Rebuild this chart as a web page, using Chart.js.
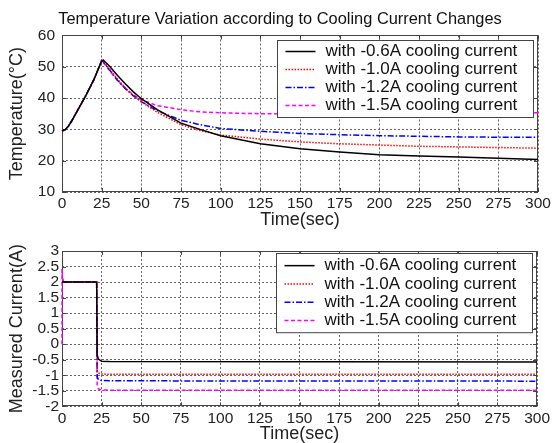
<!DOCTYPE html>
<html>
<head>
<meta charset="utf-8">
<script src="https://cdn.jsdelivr.net/npm/chart.js@4/dist/chart.umd.min.js"></script>
<style>
  html, body { margin: 0; padding: 0; background: #fff; }
  #wrap { position: relative; width: 553px; height: 443px; }
  canvas { position: absolute; left: 0; }
  #tempChart { top: 0; }
  #currChart { top: 236px; }
</style>
</head>
<body>
<div id="wrap">
  <canvas id="tempChart" width="553" height="236"></canvas>
  <canvas id="currChart" width="553" height="207"></canvas>
</div>
<script>
// series names / looks
const seriesLabels = [
  'with -0.6A cooling current',
  'with -1.0A cooling current',
  'with -1.2A cooling current',
  'with -1.5A cooling current'
];
const seriesColors = ['#000000', '#ff0000', '#0000ff', '#ff00ff'];
const seriesDash = [[], [1.5, 1.5], [6, 2, 1.5, 2], [4, 2.5]];

// tick values
const timeTicks = [0, 25, 50, 75, 100, 125, 150, 175, 200, 225, 250, 275, 300];
const tempTicks = [10, 20, 30, 40, 50, 60];
const currTicks = [-2, -1.5, -1, -0.5, 0, 0.5, 1, 1.5, 2, 2.5, 3];

// top plot: temperature (deg C) vs time (sec)
const tempTime = [0, 2, 4, 6, 10, 15, 20, 25, 26, 30, 35, 40, 45, 50, 60, 75, 87, 100, 125, 150, 175, 200, 225, 250, 275, 300];
const temp06 = [29.5, 29.9, 31.0, 32.6, 36.2, 40.8, 45.8, 51.8, 52.2, 50.2, 47.2, 44.5, 42.0, 39.8, 36.3, 32.0, 30.0, 28.0, 25.4, 23.8, 22.8, 21.9, 21.5, 21.2, 20.8, 20.4];
const temp10 = [29.5, 29.9, 31.0, 32.6, 36.2, 40.8, 45.8, 51.9, 51.8, 49.3, 46.0, 43.2, 40.8, 38.8, 35.5, 31.5, 29.6, 28.2, 26.9, 26.0, 25.4, 25.0, 24.6, 24.4, 24.2, 24.0];
const temp12 = [29.5, 29.9, 31.0, 32.6, 36.2, 40.8, 45.8, 52.0, 51.6, 49.0, 45.7, 43.0, 40.7, 38.9, 36.0, 32.9, 31.5, 30.3, 29.4, 28.7, 28.3, 28.0, 27.8, 27.6, 27.5, 27.5];
const temp15 = [29.5, 29.9, 31.0, 32.6, 36.2, 40.8, 45.8, 52.1, 51.4, 48.8, 45.6, 43.1, 41.0, 39.5, 37.6, 36.3, 35.6, 35.3, 35.0, 35.0, 35.0, 35.0, 35.1, 35.2, 35.3, 35.3];

// bottom plot: measured current (A) vs time (sec)
const currTime = [0, 1, 21.9, 22.2, 23, 25, 30, 300];
const curr06 = [2.0, 2.0, 2.0, -0.35, -0.48, -0.55, -0.56, -0.57];
const curr10 = [2.0, 2.0, 2.0, -0.85, -0.93, -0.96, -0.97, -0.97];
const curr12 = [2.0, 2.0, 2.0, -1.05, -1.14, -1.17, -1.18, -1.19];
const currTime15 = [0, 0, 0.2, 1, 21.9, 22.2, 23, 25, 30, 300];
const curr15 = [0, 2.42, 2.2, 2.0, 2.0, -1.35, -1.44, -1.47, -1.48, -1.48];

const FONT = '"Liberation Sans", Arial, sans-serif';

function makeSet(i, xs, ys) {
  return {
    label: seriesLabels[i],
    data: xs.map((x, k) => ({x: x, y: ys[k]})),
    borderColor: seriesColors[i],
    borderDash: seriesDash[i],
    borderWidth: 1.5,
    pointRadius: 0,
    tension: 0,
    fill: false,
    clip: 2
  };
}

// box + inner ticks under the lines, matlab-like legend on top
const boxLegend = {
  id: 'boxLegend',
  beforeDatasetsDraw(chart) {
    const ctx = chart.ctx;
    const a = chart.chartArea;
    const sx = chart.scales.x, sy = chart.scales.y;
    ctx.save();
    ctx.setLineDash([]);
    ctx.strokeStyle = '#444';
    ctx.lineWidth = 1;
    ctx.beginPath();
    sx.ticks.forEach(t => {
      const px = Math.round(sx.getPixelForValue(t.value)) + 0.5;
      ctx.moveTo(px, a.bottom); ctx.lineTo(px, a.bottom - 4);
      ctx.moveTo(px, a.top); ctx.lineTo(px, a.top + 4);
    });
    sy.ticks.forEach(t => {
      const py = Math.round(sy.getPixelForValue(t.value)) + 0.5;
      ctx.moveTo(a.left, py); ctx.lineTo(a.left + 4, py);
      ctx.moveTo(a.right, py); ctx.lineTo(a.right - 4, py);
    });
    ctx.stroke();
    ctx.strokeRect(Math.round(a.left) + 0.5, Math.round(a.top) + 0.5, Math.round(a.width) - 1, Math.round(a.height) - 1);
    ctx.restore();
  },
  afterDatasetsDraw(chart, args, opts) {
    const ctx = chart.ctx;
    const a = chart.chartArea;
    const n = chart.data.datasets.length;
    const h = opts.padTop + opts.rowH * n + opts.padBottom;
    const bx = Math.round(a.right - opts.right - opts.width) + 0.5;
    const by = Math.round(a.top + opts.top) + 0.5;
    ctx.save();
    ctx.setLineDash([]);
    ctx.lineWidth = 1;
    ctx.fillStyle = '#fff';
    ctx.fillRect(bx, by, opts.width, h);
    ctx.strokeStyle = '#444';
    ctx.strokeRect(bx, by, opts.width, h);
    ctx.font = '17px ' + FONT;
    ctx.textBaseline = 'middle';
    chart.data.datasets.forEach((ds, i) => {
      const y = by + opts.padTop + opts.rowH * (i + 0.5);
      ctx.strokeStyle = ds.borderColor;
      ctx.lineWidth = 1.5;
      ctx.setLineDash(ds.borderDash || []);
      ctx.beginPath();
      ctx.moveTo(bx + 8, y);
      ctx.lineTo(bx + 38, y);
      ctx.stroke();
      ctx.setLineDash([]);
      ctx.fillStyle = '#111';
      ctx.fillText(ds.label, bx + 48, y);
    });
    ctx.restore();
  }
};

function axisX(height, tickPad, titlePad) {
  return {
    type: 'linear', min: 0, max: 300,
    afterBuildTicks: s => { s.ticks = timeTicks.map(v => ({value: v})); },
    afterFit: s => { s.height = height; },
    grid: { color: '#666', lineWidth: 1, drawTicks: false },
    border: { display: false, dash: [2, 2] },
    ticks: { padding: tickPad, color: '#222', maxRotation: 0, autoSkip: false, font: { family: FONT, size: 15.5 } },
    title: { display: true, text: 'Time(sec)', color: '#222', padding: { top: 0, bottom: titlePad }, font: { family: FONT, size: 18, lineHeight: 1.0 } }
  };
}

// axis width is 62 px measured from the canvas edge, padL = layout left padding
function axisY(min, max, list, text, tickPad, padL) {
  return {
    type: 'linear', min: min, max: max,
    afterBuildTicks: s => { s.ticks = list.map(v => ({value: v})); },
    afterFit: s => { s.width = 62 - padL; },
    grid: { color: '#666', lineWidth: 1, drawTicks: false },
    border: { display: false, dash: [2, 2] },
    ticks: {
      padding: tickPad, color: '#222', autoSkip: false,
      font: { family: FONT, size: 15.5 },
      callback: v => String(v)
    },
    title: { display: true, text: text, color: '#222', padding: { top: 8 - padL, bottom: 0 }, font: { family: FONT, size: 18, lineHeight: 1.0 } }
  };
}

new Chart(document.getElementById('tempChart').getContext('2d'), {
  type: 'line',
  data: {
    datasets: [
      makeSet(0, tempTime, temp06),
      makeSet(1, tempTime, temp10),
      makeSet(2, tempTime, temp12),
      makeSet(3, tempTime, temp15)
    ]
  },
  options: {
    responsive: false,
    animation: false,
    devicePixelRatio: 1,
    layout: { padding: { left: 22, right: 15, top: 0, bottom: 0 } },
    scales: {
      x: axisX(44, 2, 7),
      y: axisY(10, 60, tempTicks, 'Temperature(\u00B0C)', 7, 22)
    },
    plugins: {
      legend: { display: false },
      tooltip: { enabled: false },
      title: {
        display: true,
        text: 'Temperature Variation according to Cooling Current Changes',
        color: '#111',
        padding: { top: 10, bottom: 5.8 },
        font: { family: FONT, size: 16.4, weight: 'normal', lineHeight: 1.2 }
      },
      boxLegend: { width: 256, right: 5, top: 5, padTop: 2, padBottom: 3, rowH: 18 }
    }
  },
  plugins: [boxLegend]
});

new Chart(document.getElementById('currChart').getContext('2d'), {
  type: 'line',
  data: {
    datasets: [
      makeSet(0, currTime, curr06),
      makeSet(1, currTime, curr10),
      makeSet(2, currTime, curr12),
      makeSet(3, currTime15, curr15)
    ]
  },
  options: {
    responsive: false,
    animation: false,
    devicePixelRatio: 1,
    layout: { padding: { left: 0, right: 15, top: 15, bottom: 0 } },
    scales: {
      x: axisX(36.7, 3, 0),
      y: axisY(-2, 3, currTicks, 'Measured Current(A)', 3, 0)
    },
    plugins: {
      legend: { display: false },
      tooltip: { enabled: false },
      boxLegend: { width: 256, right: 5, top: 2, padTop: 3, padBottom: 3, rowH: 18.3 }
    }
  },
  plugins: [boxLegend]
});
</script>
</body>
</html>
